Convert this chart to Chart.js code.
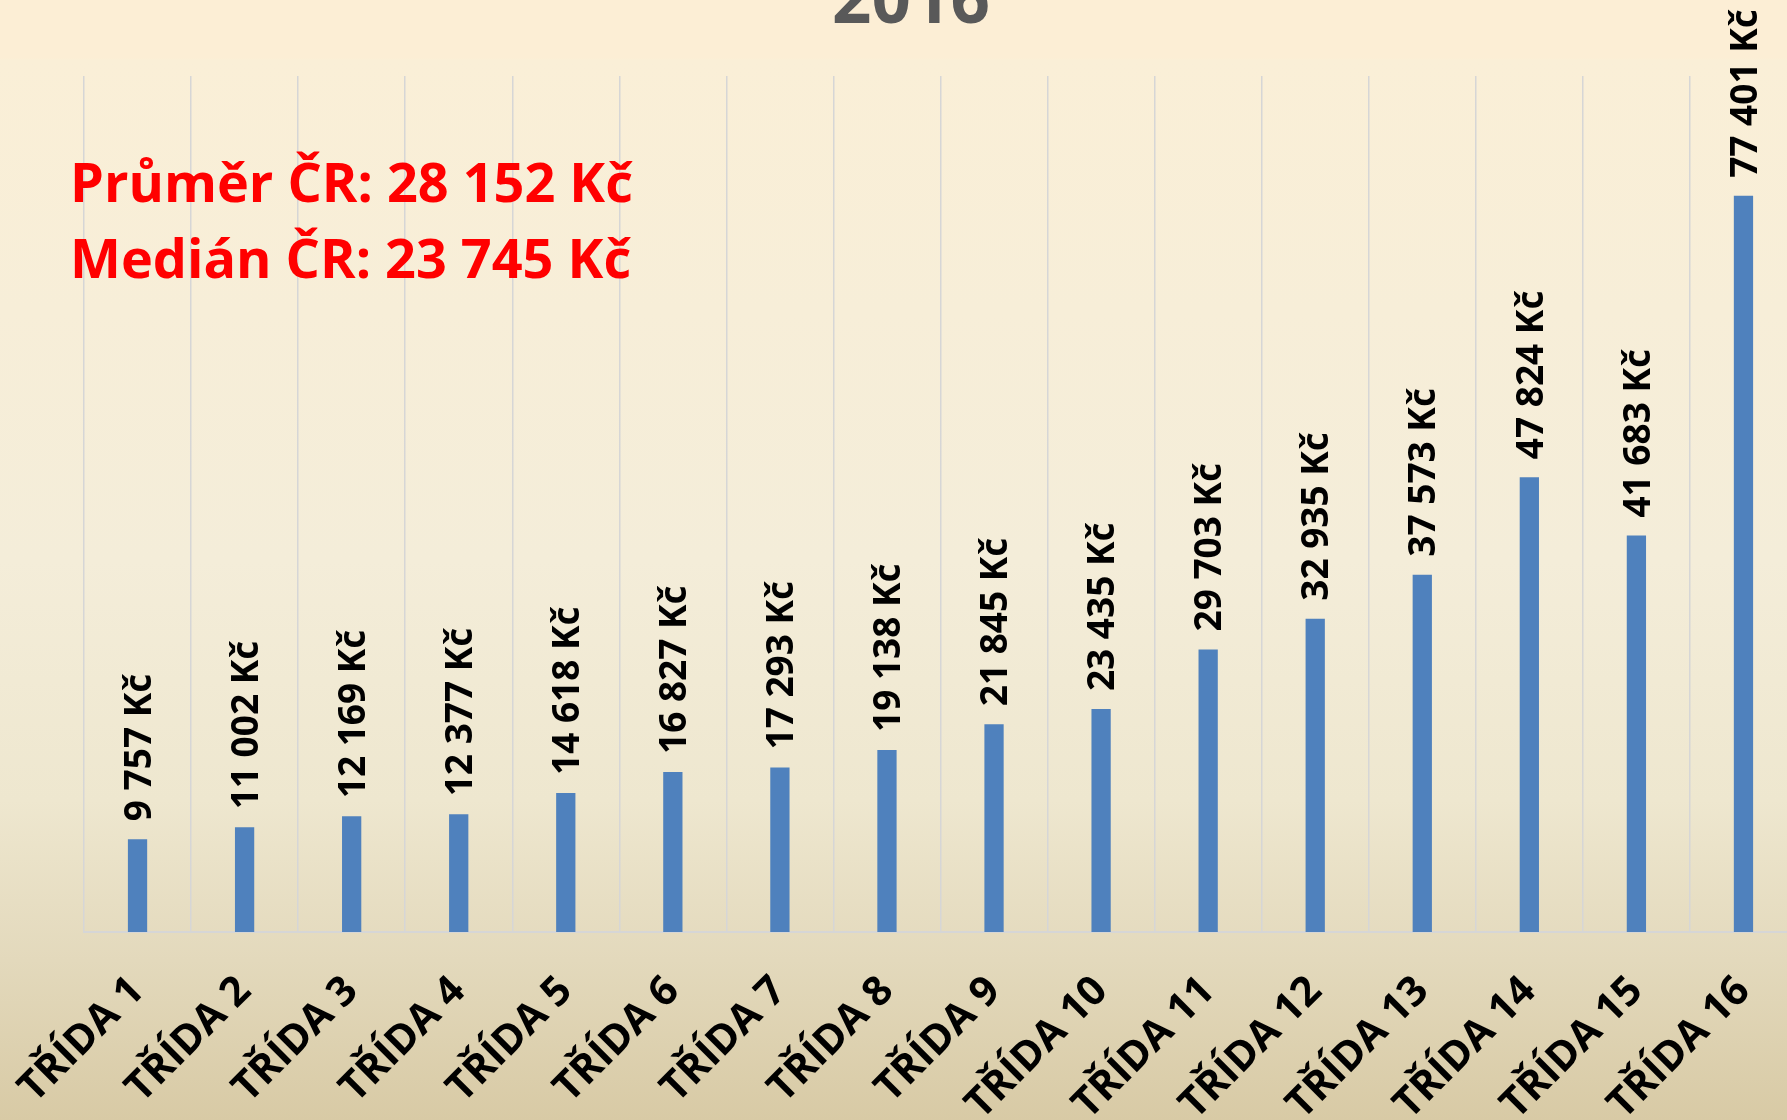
<!DOCTYPE html>
<html lang="cs">
<head>
<meta charset="utf-8">
<title>2016</title>
<script src="https://cdn.jsdelivr.net/npm/chart.js@4.4.1/dist/chart.umd.min.js"></script>
<style>
  html, body {
    margin: 0;
    padding: 0;
    overflow: hidden;
    width: 1787px;
    height: 1120px;
    background: linear-gradient(to bottom,
      #FCEED5 0px, #FCEED5 58px, #FAEFD7 60px,
      #F4EDD9 560px, #EEE7CF 800px, #E3D9BC 960px, #D8CAA5 1120px);
  }
  canvas { display: block; }
</style>
</head>
<body>
<canvas id="chart" width="1800" height="1120"></canvas>
<script>
// Data
const categories = ["TŘÍDA 1", "TŘÍDA 2", "TŘÍDA 3", "TŘÍDA 4", "TŘÍDA 5", "TŘÍDA 6", "TŘÍDA 7", "TŘÍDA 8",
                    "TŘÍDA 9", "TŘÍDA 10", "TŘÍDA 11", "TŘÍDA 12", "TŘÍDA 13", "TŘÍDA 14", "TŘÍDA 15", "TŘÍDA 16"];
const wages = [9757, 11002, 12169, 12377, 14618, 16827, 17293, 19138,
               21845, 23435, 29703, 32935, 37573, 47824, 41683, 77401];
const titleText = "2016";
const noteLines = ["Průměr ČR: 28 152 Kč", "Medián ČR: 23 745 Kč"];
const yMax = 90000;

const FONT = "'Open Sans', 'Noto Sans', sans-serif";

// 9757 -> "9 757 Kč"
function formatCzk(v) {
    return String(v).replace(/\B(?=(\d{3})+(?!\d))/g, " ") + " Kč";
}

// Rotated value labels above each bar
const barLabels = {
    id: "barLabels",
    afterDatasetsDraw(chart) {
        const ctx = chart.ctx;
        const size = 37;
        const cap = size * 0.714;
        ctx.save();
        ctx.font = `bold ${size}px ${FONT}`;
        ctx.fillStyle = "#000";
        ctx.textAlign = "left";
        ctx.textBaseline = "alphabetic";
        chart.getDatasetMeta(0).data.forEach((bar, i) => {
            ctx.save();
            ctx.translate(bar.x, bar.y - 18);
            ctx.rotate(-Math.PI / 2);
            ctx.fillText(formatCzk(wages[i]), 0, cap / 2);
            ctx.restore();
        });
        ctx.restore();
    }
};

// Cut-off title and the red average / median note
const texts = {
    id: "texts",
    beforeDatasetsDraw(chart) {
        const ctx = chart.ctx;
        ctx.save();
        ctx.font = `bold 69px ${FONT}`;
        ctx.fillStyle = "#595959";
        ctx.textAlign = "center";
        ctx.textBaseline = "alphabetic";
        ctx.fillText(titleText, 911, 23);

        ctx.font = `bold 54px ${FONT}`;
        ctx.fillStyle = "#FF0000";
        ctx.textAlign = "left";
        noteLines.forEach((line, i) => {
            ctx.fillText(line, 70, 202 + i * 76);
        });
        ctx.restore();
    }
};

const data = {
    labels: categories,
    datasets: [{
        data: wages,
        backgroundColor: "#4F81BD",
        borderWidth: 0,
        categoryPercentage: 1,
        barPercentage: 0.18
    }]
};

const config = {
    type: "bar",
    data: data,
    plugins: [texts, barLabels],
    options: {
        responsive: false,
        animation: false,
        layout: { padding: { left: 84, top: 76, right: 3, bottom: 0 } },
        plugins: {
            legend: { display: false },
            tooltip: { enabled: false },
            title: { display: false }
        },
        scales: {
            x: {
                offset: true,
                grid: { offset: true, color: "#D6D6D6", lineWidth: 1.5, drawTicks: false },
                border: { color: "#D6D6D6", width: 2 },
                ticks: {
                    color: "#000",
                    font: { family: FONT, size: 41, weight: "bold" },
                    minRotation: 45,
                    maxRotation: 45,
                    padding: 35,
                    autoSkip: false
                },
                afterFit(scale) {
                    scale.height = 188;
                    scale.paddingLeft = 0;
                    scale.paddingRight = 0;
                }
            },
            y: {
                display: false,
                min: 0,
                max: yMax
            }
        }
    }
};

const myChart = new Chart(document.getElementById("chart"), config);
</script>
</body>
</html>
